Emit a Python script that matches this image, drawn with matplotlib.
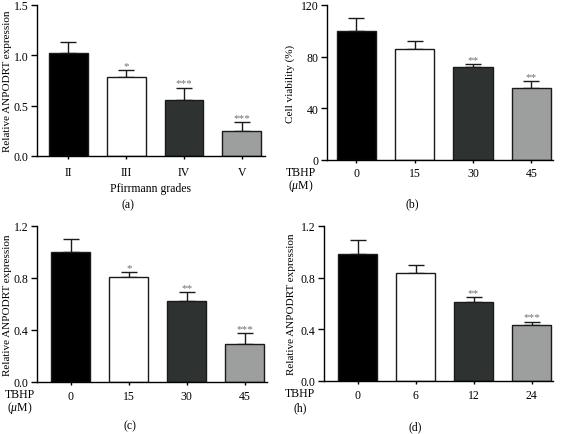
import matplotlib
matplotlib.use("Agg")
import matplotlib.pyplot as plt

plt.rcParams['font.family'] = ['Liberation Serif', 'DejaVu Serif']
plt.rcParams['mathtext.fontset'] = 'custom'
plt.rcParams['mathtext.it'] = 'Liberation Serif:italic'
plt.rcParams['mathtext.rm'] = 'Liberation Serif'

# ---- data ----
a_labels = ["II", "III", "IV", "V"]
a_values = [1.02, 0.78, 0.56, 0.25]
a_errors = [0.11, 0.07, 0.12, 0.09]
a_sig = ["", "*", "***", "***"]

b_labels = ["0", "15", "30", "45"]
b_values = [100, 86, 72, 56]
b_errors = [10, 6, 2, 5]
b_sig = ["", "", "**", "**"]

c_labels = ["0", "15", "30", "45"]
c_values = [1.00, 0.81, 0.62, 0.29]
c_errors = [0.10, 0.035, 0.07, 0.085]
c_sig = ["", "*", "**", "***"]

d_labels = ["0", "6", "12", "24"]
d_values = [0.98, 0.84, 0.61, 0.43]
d_errors = [0.11, 0.06, 0.04, 0.03]
d_sig = ["", "", "**", "***"]

bar_colors = ["#000000", "#ffffff", "#2e3332", "#9d9f9e"]

W, H = 562, 435
fig = plt.figure(figsize=(W / 100, H / 100), dpi=100)

def rect(l, r, b, t):
    return [l / W, 1 - b / H, (r - l) / W, (b - t) / H]

FS = 8.5
LFS = 8

def panel(pos, labels, values, errors, sig, ylim, yticks, yticklabels, ylabel, xlim, ylab_x, xpad):
    ax = fig.add_axes(pos)
    x = list(range(len(values)))
    ax.bar(x, values, width=0.67, color=bar_colors, edgecolor="#1a1a1a", linewidth=1.0, zorder=2)
    ax.errorbar(x, values, yerr=[[0] * len(errors), errors], fmt="none", ecolor="#1a1a1a",
                elinewidth=1.0, capsize=6, capthick=1.0, zorder=1)
    for xi, v, e, s in zip(x, values, errors, sig):
        if s:
            ax.text(xi, v + e, s, ha="center", va="bottom", fontsize=8, color="#707070")
    ax.set_ylim(*ylim)
    ax.set_xlim(*xlim)
    ax.set_yticks(yticks)
    ax.set_yticklabels(yticklabels, fontsize=FS)
    ax.set_xticks(x)
    ax.set_xticklabels(labels, fontsize=FS)
    ax.spines["top"].set_visible(False)
    ax.spines["right"].set_visible(False)
    ax.spines["left"].set_linewidth(1.0)
    ax.spines["bottom"].set_linewidth(1.0)
    ax.tick_params(axis="y", length=4, width=1.0, pad=2)
    ax.tick_params(axis="x", length=2, width=1.0, pad=xpad)
    ax.set_ylabel(ylabel, fontsize=LFS)
    ax.yaxis.set_label_coords(ylab_x, 0.5)
    return ax

axa = panel(rect(37, 265, 157, 6), a_labels, a_values, a_errors, a_sig,
            (0, 1.5), [0, 0.5, 1.0, 1.5], ["0.0", "0.5", "1.0", "1.5"],
            "Relative ANPODRT expression", (-0.54, 3.4), -0.11, 5)
axa.set_xlabel("Pfirrmann grades", fontsize=FS, labelpad=3)

axb = panel(rect(327, 553, 161, 6), b_labels, b_values, b_errors, b_sig,
            (0, 120), [0, 40, 80, 120], ["0", "40", "80", "120"],
            "Cell viability (%)", (-0.5, 3.37), -0.142, 3)

axc = panel(rect(37, 267, 383, 227), c_labels, c_values, c_errors, c_sig,
            (0, 1.2), [0, 0.4, 0.8, 1.2], ["0.0", "0.4", "0.8", "1.2"],
            "Relative ANPODRT expression", (-0.58, 3.38), -0.109, 4)

axd = panel(rect(324, 553, 382, 227), d_labels, d_values, d_errors, d_sig,
            (0, 1.2), [0, 0.4, 0.8, 1.2], ["0.0", "0.4", "0.8", "1.2"],
            "Relative ANPODRT expression", (-0.58, 3.37), -0.122, 4)

def ftext(px, py, s, **kw):
    fig.text(px / W, 1 - py / H, s, ha="center", va="center", fontsize=FS, **kw)

# TBHP row labels
ftext(301, 173, "TBHP")
ftext(301, 186, r"($\mu$M)")
ftext(20, 395, "TBHP")
ftext(20, 408, r"($\mu$M)")
ftext(300, 394, "TBHP")
ftext(300, 408, "(h)")

# panel letters
ftext(128, 205, "(a)")
ftext(412, 204, "(b)")
ftext(130, 426, "(c)")
ftext(415, 427, "(d)")

fig.savefig("out.png", dpi=100)
